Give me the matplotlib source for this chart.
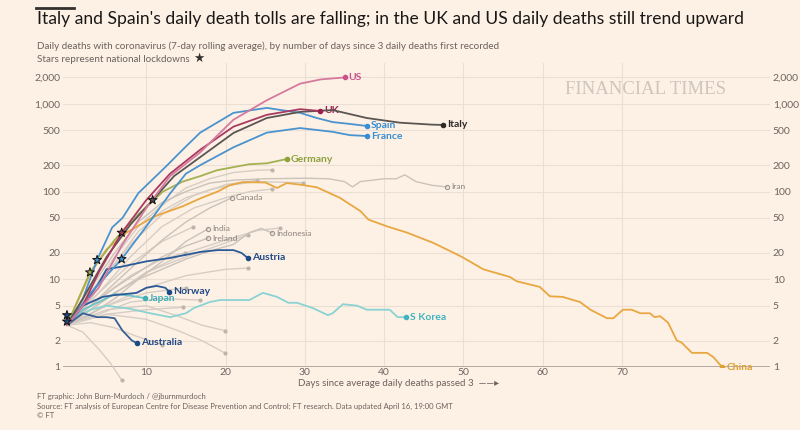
import numpy as np
import matplotlib.pyplot as plt
from matplotlib.lines import Line2D

plt.rcParams['font.family'] = ['Lato', 'DejaVu Sans']

bg = '#fdf1e6'

# ---- highlighted countries (day since 3 deaths, 7-day avg deaths) ----
us_days = [0, 2, 4, 7, 10, 13, 16.8, 21, 25.2, 29.4, 32, 35]
us_vals = [3, 5, 8, 25, 65, 150, 280, 660, 1100, 1700, 1900, 2000]

uk_days = [0, 2, 4, 6.9, 10, 13, 16.8, 21, 25.2, 29.4, 31.9]
uk_vals = [3, 5, 12, 34, 80, 160, 300, 550, 750, 870, 830]

italy_days = [0, 2, 5, 8, 10.8, 13.5, 16.8, 21, 25.2, 29.4, 33.5, 37.8, 42, 46, 47.4]
italy_vals = [3, 6, 18, 42, 80, 150, 247, 466, 690, 810, 850, 690, 610, 580, 575]

spain_days = [0, 2, 3.8, 5.7, 7, 9, 12.4, 14.9, 16.8, 21, 25.2, 27, 29.4, 31.5, 33.5, 35.7, 37.8]
spain_vals = [3, 6, 16.6, 39, 50, 96, 190, 320, 470, 790, 900, 850, 790, 690, 620, 590, 560]

france_days = [0, 3, 6.9, 10, 13, 15, 16.8, 21, 25.2, 29.4, 33.5, 35.7, 37.8]
france_vals = [3, 7, 17, 40, 95, 160, 200, 320, 470, 530, 480, 440, 430]

germany_days = [0, 2.9, 6, 9, 12.1, 14.6, 16.8, 18.9, 21, 23, 25.2, 27.7]
germany_vals = [3, 12, 28, 55, 100, 130, 150, 175, 190, 205, 210, 235]

china_days = [0, 1.5, 3, 5, 7.5, 11, 14.6, 17, 19, 20.5, 22.2, 25, 26.5, 27.7, 29.4, 31.5,
              34.4, 37, 38, 40.4, 42.9, 46.2, 48.3, 49.8, 52.5, 55.9, 56.7, 59.6, 60.9,
              62.5, 64.7, 66, 68.1, 68.9, 70.1, 71.2, 72.3, 73.5, 74.1, 74.8, 75.8, 76.9,
              77.5, 78.8, 80.7, 81.5, 82.6]
china_vals = [3, 6, 12, 22, 34, 52, 68, 85, 100, 118, 128, 127, 110, 125, 120, 112,
              85, 60, 48, 40, 34, 26, 21, 18, 13, 10.6, 9.5, 8.2, 6.4,
              6.3, 5.5, 4.5, 3.6, 3.6, 4.5, 4.5, 4.1, 4.1, 3.7, 3.8, 3.2, 2.0,
              1.9, 1.45, 1.45, 1.3, 1.0]

austria_days = [0, 2, 4, 5, 7, 10, 13, 16.8, 19, 21, 22, 22.8]
austria_vals = [3.2, 5, 9, 13, 14, 16, 17.5, 20.5, 21.5, 21.5, 20, 17.5]

norway_days = [0, 2, 4.5, 6, 8.8, 10, 11.3, 12.4, 12.9]
norway_vals = [3, 5, 6.3, 6.6, 7, 8, 8.4, 8, 7.2]

japan_days = [0, 2, 4, 6, 8, 9.8]
japan_vals = [3, 4.5, 5.5, 6.8, 6.5, 6.1]

korea_days = [0, 3, 5, 8, 10.5, 13, 15, 16, 18, 19.3, 23, 24.7, 26.5, 27.9, 29, 31, 32.9,
              33.5, 34.8, 36.6, 37.8, 40.7, 41.7, 42.7]
korea_vals = [3.3, 4.5, 5, 4.6, 4.1, 3.7, 4.1, 4.7, 5.5, 5.8, 5.8, 7, 6.3, 5.4, 5.4, 4.7, 3.9,
              4.1, 5.2, 5, 4.5, 4.5, 3.7, 3.7]

australia_days = [0, 2, 3.8, 5, 6, 7, 8.2, 8.8]
australia_vals = [3, 4.1, 3.7, 3.7, 3.6, 2.6, 2.0, 1.88]

iran_days = [0, 3, 6, 9, 12, 15, 18, 21, 25, 30, 33, 35, 36, 37, 40, 41.5, 42.6, 44, 46, 47.9]
iran_vals = [3, 8, 20, 45, 75, 100, 125, 135, 140, 142, 140, 130, 113, 130, 140, 140, 155, 130, 118, 113]

canada_days = [0, 3, 6, 9, 12, 15, 18, 20.8]
canada_vals = [3, 5, 9, 16, 28, 45, 65, 85]

india_days = [0, 3, 6, 9, 12, 15, 17.8]
india_vals = [3, 4, 6, 10, 16, 27, 37.6]

ireland_days = [0, 3, 6, 9, 12, 15, 17.8]
ireland_vals = [3, 5, 8, 12, 18, 24, 29.5]

indonesia_days = [0, 3, 6, 9, 12, 15, 18, 21, 23, 24.5, 25.9]
indonesia_vals = [3, 4.5, 7, 10, 13, 17, 21, 25, 34, 38, 33.7]

# unlabelled grey countries
others = [
    ([0, 3, 6, 9, 12, 15, 18, 21, 24, 25.9], [3, 7, 18, 40, 70, 110, 140, 165, 175, 177]),
    ([0, 3, 6, 9, 12, 15, 18, 21, 24, 27, 29.8], [3, 6, 15, 35, 60, 85, 105, 120, 130, 128, 126]),
    ([0, 4, 8, 12, 16, 20, 24], [3, 9, 25, 55, 90, 120, 135]),
    ([0, 4, 8, 12, 16, 20, 23, 25.9], [3, 7, 18, 40, 65, 85, 100, 107]),
    ([0, 5, 10, 15, 20, 24, 26.9], [3, 6, 12, 20, 28, 36, 38.5]),
    ([0, 4, 8, 12, 15.9], [3, 7, 15, 27, 39.5]),
    ([0, 5, 10, 15, 20, 22.8], [3, 6, 12, 18, 26, 32]),
    ([0, 5, 10, 15, 20, 22.8], [3, 5, 8, 11, 13, 13.4]),
    ([0, 4, 8, 12, 14.9], [3, 6, 11, 17, 20]),
    ([0, 4, 8, 12, 16.8], [3, 4, 5.5, 6, 5.8]),
    ([0, 5, 10, 14, 17, 19.9], [3, 4.5, 5, 3.8, 3, 2.6]),
    ([0, 5, 10, 14, 17, 19.9], [3, 4, 3.5, 2.6, 2, 1.45]),
    ([0, 2, 4, 5.5, 6.9], [3, 2.5, 1.6, 1.1, 0.71]),
    ([0, 3, 6, 9, 12], [3, 3.2, 2.8, 2.2, 1.8]),
    ([0, 5, 10, 15], [3, 5, 7, 8]),
    ([0, 5, 10, 14.6], [3, 4, 4.5, 4.8]),
]

# lockdown stars: (day, value, colour)
lock_days = [10.8, 6.9, 6.9, 3.8, 2.9, 0, 0]
lock_vals = [80, 34, 17, 16.6, 12, 3.9, 3.3]
lock_cols = ['#4e4a47', '#a3345a', '#3f8fd0', '#3f8fd0', '#9fad4c', '#1f4a85', '#1f4a85']

y_ticks = [1, 2, 5, 10, 20, 50, 100, 200, 500, 1000, 2000]
y_labels = ['1', '2', '5', '10', '20', '50', '100', '200', '500', '1,000', '2,000']
x_ticks = [10, 20, 30, 40, 50, 60, 70]

fig = plt.figure(figsize=(8, 4.3), dpi=100, facecolor=bg)
ax = fig.add_axes([63 / 800, (430 - 367) / 430, 707 / 800, (367 - 63) / 430])
ax.set_facecolor(bg)
ax.set_yscale('log')
ax.set_xlim(-0.5, 88.65)
ax.set_ylim(1, 2924)

for s in ax.spines.values():
    s.set_visible(False)
ax.set_yticks(y_ticks)
ax.set_yticklabels(y_labels)
ax.yaxis.set_minor_locator(plt.NullLocator())
ax.set_xticks(x_ticks)
ax.tick_params(axis='y', length=0, labelsize=7.5, colors='#6d6560', pad=2,
               labelleft=True, labelright=True)
ax.tick_params(axis='x', length=0, labelsize=7.5, colors='#6d6560', pad=1)
ax.grid(True, axis='both', color='#ebdfd4', lw=0.8)
ax.axhline(1, color='#b2aaa3', lw=1.4, zorder=2)

# grey background lines
for d, v in others:
    ax.plot(d, v, color='#d6cdc5', lw=1, zorder=3, clip_on=False)
    ax.plot(d[-1], v[-1], 'o', ms=2, color='#bdb4ac', zorder=3, clip_on=False)

labelled_grey = [
    (iran_days, iran_vals, 'Iran'),
    (canada_days, canada_vals, 'Canada'),
    (india_days, india_vals, 'India'),
    (ireland_days, ireland_vals, 'Ireland'),
    (indonesia_days, indonesia_vals, 'Indonesia'),
]
for d, v, name in labelled_grey:
    ax.plot(d, v, color='#cbc2ba', lw=1, zorder=3)
    ax.plot(d[-1], v[-1], 'o', ms=3, mfc='none', mec='#9d958f', mew=0.8, zorder=4)
    ax.annotate(name, (d[-1], v[-1]), xytext=(3, 0), textcoords='offset points',
                va='center', ha='left', fontsize=6, color='#8a827c')

highlight = [
    (china_days, china_vals, 'China', '#e8a740', '#e0a030'),
    (korea_days, korea_vals, 'S Korea', '#8ad3d2', '#3fb4be'),
    (japan_days, japan_vals, 'Japan', '#6cc4c9', '#3fb0b8'),
    (australia_days, australia_vals, 'Australia', '#3a5f93', '#1f4a85'),
    (norway_days, norway_vals, 'Norway', '#2b5a97', '#1f4a85'),
    (austria_days, austria_vals, 'Austria', '#2b5a97', '#1f4a85'),
    (germany_days, germany_vals, 'Germany', '#a3b153', '#8da23c'),
    (france_days, france_vals, 'France', '#4a93cf', '#3a8dd0'),
    (spain_days, spain_vals, 'Spain', '#4a93cf', '#3a8dd0'),
    (italy_days, italy_vals, 'Italy', '#5a5552', '#2e2b29'),
    (uk_days, uk_vals, 'UK', '#a83a60', '#9e1f4f'),
    (us_days, us_vals, 'US', '#d57a9e', '#c9528a'),
]
for d, v, name, lc, tc in highlight:
    ax.plot(d, v, color=lc, lw=1.3, zorder=5, solid_capstyle='round')
    ax.plot(d[-1], v[-1], 'o', ms=3, color=tc, zorder=6)
    ax.annotate(name, (d[-1], v[-1]), xytext=(3, 0), textcoords='offset points',
                va='center', ha='left', fontsize=7.5, fontweight='bold', color=tc)

ax.scatter(lock_days, lock_vals, marker='*', s=45, c=lock_cols, edgecolors='#111111',
           linewidths=0.7, zorder=8, clip_on=False)

# texts
fig.add_artist(Line2D([36 / 800, 74 / 800], [1 - 8 / 430, 1 - 8 / 430], color='#33302e', lw=2))
fig.text(37 / 800, 1 - 19 / 430, "Italy and Spain's daily death tolls are falling; in the UK and US daily deaths still trend upward",
         fontsize=12.6, color='#1a1817', va='center', ha='left')
fig.text(37 / 800, 1 - 46 / 430,
         'Daily deaths with coronavirus (7-day rolling average), by number of days since 3 daily deaths first recorded',
         fontsize=7.15, color='#6b625c', va='center', ha='left')
fig.text(37 / 800, 1 - 59 / 430, 'Stars represent national lockdowns',
         fontsize=7.15, color='#6b625c', va='center', ha='left')
fig.text(193 / 800, 1 - 58 / 430, '\u2605', fontsize=9, color='#33302e', va='center', ha='left',
         family='DejaVu Sans')
fig.text(565 / 800, 1 - 90 / 430, 'FINANCIAL TIMES', fontsize=13.5, color='#cfc5bc',
         family='Liberation Serif', va='center', ha='left')
fig.text(298 / 800, 1 - 383 / 430, 'Days since average daily deaths passed 3  \u2014\u2014\u25b8',
         fontsize=7, color='#6b625c', va='center', ha='left', family=['Lato', 'DejaVu Sans'])
foot = ['FT graphic: John Burn-Murdoch / @jburnmurdoch',
        'Source: FT analysis of European Centre for Disease Prevention and Control; FT research. Data updated April 16, 19:00 GMT',
        '\u00a9 FT']
for i, line in enumerate(foot):
    fig.text(37 / 800, 1 - (396 + 10 * i) / 430, line, fontsize=5.5, color='#6b625c',
             va='center', ha='left')

fig.savefig('out.png', dpi=100, facecolor=bg)
